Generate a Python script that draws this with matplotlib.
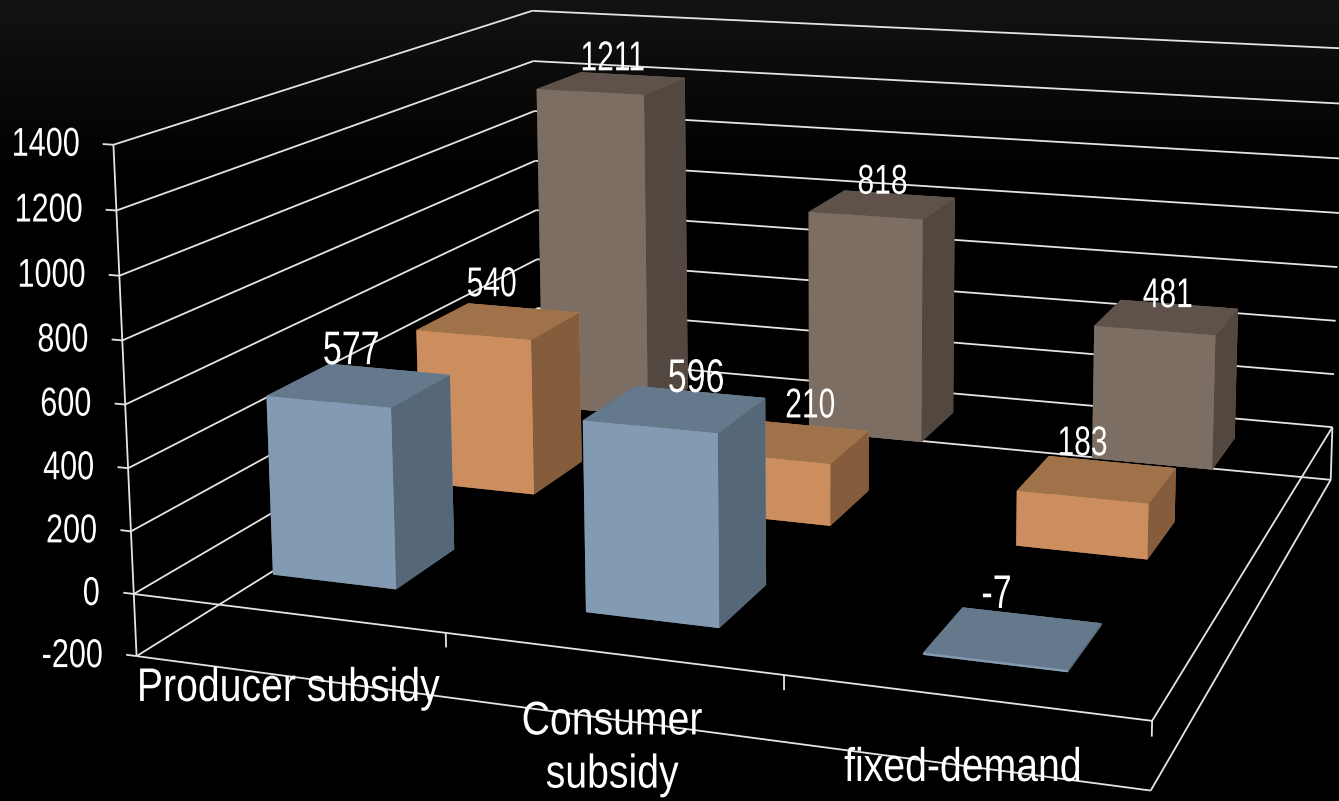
import numpy as np
import matplotlib
matplotlib.use('Agg')
import matplotlib.pyplot as plt
from matplotlib.patheffects import AbstractPathEffect
from matplotlib.transforms import Affine2D
from mpl_toolkits.mplot3d import proj3d

categories = ['Producer subsidy', 'Consumer\nsubsidy', 'fixed-demand']
blue_values = [577, 596, -7]
orange_values = [540, 210, 183]
brown_values = [1211, 818, 481]
z_ticks = [-200, 0, 200, 400, 600, 800, 1000, 1200, 1400]

# front, top, side colours per series
blue_cols = ('#839bb2', '#65798d', '#566878')
orange_cols = ('#cc8e5f', '#a07249', '#855c3c')
brown_cols = ('#7d6e64', '#5f524a', '#524840')

W, H = 1339, 801
BAR = 0.405
LINE = '#e4e4e4'
plt.rcParams['font.family'] = 'Liberation Sans'


class Squeeze(AbstractPathEffect):
    # the reference text is a condensed face, so narrow the glyphs around their middle
    def __init__(self, sx):
        super().__init__()
        self.sx = sx

    def draw_path(self, renderer, gc, tpath, affine, rgbFace=None):
        ext = tpath.get_extents()
        c = (ext.x0 + ext.x1) / 2
        t = Affine2D().translate(-c, 0).scale(self.sx, 1).translate(c, 0)
        renderer.draw_path(gc, tpath, t + affine, rgbFace)


fig = plt.figure(figsize=(W / 100, H / 100), dpi=100, facecolor='black')

# dark grey fading to black at the top of the slide
bg = fig.add_axes([0, 0, 1, 1], zorder=0)
grad = np.clip(1 - np.linspace(0, 1, H) / 0.22, 0, 1)[:, None] * 0.075
bg.imshow(grad, cmap='gray', vmin=0, vmax=1, aspect='auto')
bg.axis('off')

# camera fitted to the box corners of the reference; the slide is stretched a bit vertically
sx, tx, sy, ty = 7226.3, 785.3, 8458.9, 329.7
ax = fig.add_axes([(tx - sx * 0.095) / W, (H - ty - sy * 0.095) / H, sx * 0.185 / W, sy * 0.185 / H],
                  projection='3d', zorder=1)
ax.apply_aspect = lambda position=None: None
ax.set_xlim(0, 3)
ax.set_ylim(0, 3)
ax.set_zlim(-200, 1400)
ax.view_init(12.149, -70.365, 0.228)
ax.set_proj_type('persp', focal_length=0.4031)
ax.set_box_aspect((1, 0.9474, 0.4283))
ax.set_axis_off()
ax.patch.set_visible(False)
ax.computed_zorder = False
M = ax.get_proj()


def line(xs, ys, zs, lw=1.3):
    ax.plot(xs, ys, zs, color=LINE, lw=lw, zorder=1, solid_capstyle='butt', clip_on=False)


# walls
for z in z_ticks:
    line([0, 0], [0, 3], [z, z])
    line([0, 3], [3, 3], [z, z])
    line([-0.035, 0], [0, 0], [z, z])
line([0, 0], [0, 0], [-200, 1400])
# floor frame
for z in (-200, 0):
    line([0, 3], [0, 0], [z, z])
    line([3, 3], [0, 3], [z, z])
line([3, 3], [3, 3], [-200, 0])
for x in (1, 2, 3):
    line([x, x], [0, 0], [-45, 0])


def label(txt, x, y, z, dx, dy, size=30, squeeze=0.72):
    px, py, _ = proj3d.proj_transform(x, y, z, M)
    ax.annotate(txt, (px, py), xytext=(dx * 0.72, -dy * 0.72), textcoords='offset points',
                color='white', fontsize=size, ha='center', va='center', zorder=20,
                annotation_clip=False, path_effects=[Squeeze(squeeze)])


cat_x = [0.5, 1.505, 2.505]
series = [(2.54, brown_values, brown_cols), (1.52, orange_values, orange_cols), (0.5, blue_values, blue_cols)]
order = 2
for yc, vals, cols in series:
    for xc, v in zip(cat_x, vals):
        front, top, sd = cols
        ax.bar3d(xc - BAR / 2, yc - BAR / 2, 0, BAR, BAR, v,
                 color=[top, top, front, front, sd, sd], shade=False,
                 linewidth=0, zorder=order)
        order += 1

# label offsets from each bar's top centre, in pixels
blue_off = [(-8, -33), (21, -29), (-17, -44)]
orange_off = [(-7, -36), (21, -35), (-15, -35)]
brown_off = [(1, -24), (0, -22), (1, -21)]
sizes = (30, 30, 34)
for (yc, vals, cols), offs, fs in zip(series, (brown_off, orange_off, blue_off), sizes):
    for xc, v, off in zip(cat_x, vals, offs):
        label(str(v), xc, yc, v, off[0], off[1], size=fs)

# tick labels end a fixed distance left of the axis
digit = 16.9
for z in z_ticks:
    w = digit * len(str(z)) - (7 if z < 0 else 0)
    label(str(z), 0, 0, z, -34 - w / 2, 0, size=29, squeeze=0.76)

# category labels sit below the front edge
cat_pos = [(288, 689), (612, 749), (963, 769)]
for name, (cx, cy) in zip(categories, cat_pos):
    fig.text(cx / W, 1 - cy / H, name, color='white', fontsize=34, ha='center', va='center',
             linespacing=1.27, zorder=5, path_effects=[Squeeze(0.83)])

fig.savefig('out.png', dpi=100, facecolor='black')
